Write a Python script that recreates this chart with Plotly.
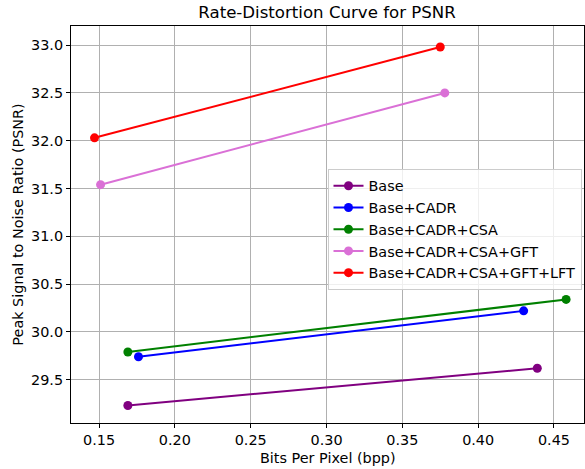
import plotly.graph_objects as go

series_names = ["Base", "Base+CADR", "Base+CADR+CSA", "Base+CADR+CSA+GFT", "Base+CADR+CSA+GFT+LFT"]
colors = ["purple", "blue", "green", "orchid", "red"]
bpp_base = [0.169, 0.439]
psnr_base = [29.23, 29.62]
bpp_cadr = [0.176, 0.430]
psnr_cadr = [29.74, 30.22]
bpp_csa = [0.169, 0.458]
psnr_csa = [29.79, 30.34]
bpp_gft = [0.151, 0.378]
psnr_gft = [31.54, 32.50]
bpp_lft = [0.147, 0.375]
psnr_lft = [32.03, 32.98]

xs = [bpp_base, bpp_cadr, bpp_csa, bpp_gft, bpp_lft]
ys = [psnr_base, psnr_cadr, psnr_csa, psnr_gft, psnr_lft]

fig = go.Figure()
for name, c, x, y in zip(series_names, colors, xs, ys):
    fig.add_trace(go.Scatter(x=x, y=y, mode="lines+markers", name=name,
                             line=dict(color=c, width=2),
                             marker=dict(color=c, size=9)))

font = "DejaVu Sans"
fs = 14.4
axis_common = dict(showline=True, linecolor="black", linewidth=1, mirror=True,
                   ticks="outside", ticklen=4, tickcolor="black", automargin=False,
                   showgrid=True, gridcolor="#b0b0b0", gridwidth=1, zeroline=False,
                   tickfont=dict(family=font, size=fs, color="black"))
fig.update_layout(
    width=585, height=469,
    margin=dict(l=71, r=1, t=26, b=46),
    plot_bgcolor="white", paper_bgcolor="white",
    title=dict(text="Rate-Distortion Curve for PSNR", x=0.559, xanchor="center", y=0.974, yanchor="middle",
               font=dict(family=font, size=16.6, color="black")),
    xaxis=dict(range=[0.1315, 0.4698], dtick=0.05, tick0=0.15, tickformat=".2f", **axis_common),
    yaxis=dict(range=[29.047, 33.2], dtick=0.5, tick0=29.5, tickformat=".1f", **axis_common),
    legend=dict(x=0.5, y=0.64, xanchor="left", yanchor="top",
                bgcolor="rgba(255,255,255,0.8)", bordercolor="#cccccc", borderwidth=1,
                font=dict(family=font, size=fs, color="black"), tracegroupgap=0),
    showlegend=True,
    annotations=[
        dict(text="Bits Per Pixel (bpp)", xref="paper", yref="paper", x=0.5, y=-0.088,
             xanchor="center", yanchor="middle", showarrow=False,
             font=dict(family=font, size=fs, color="black")),
        dict(text="Peak Signal to Noise Ratio (PSNR)", xref="paper", yref="paper", x=-0.105, y=0.5,
             xanchor="center", yanchor="middle", showarrow=False, textangle=-90,
             font=dict(family=font, size=fs, color="black")),
    ],
)
fig.write_html("out.html", config={"displayModeBar": False},
               post_script="document.body.style.margin='0';")
